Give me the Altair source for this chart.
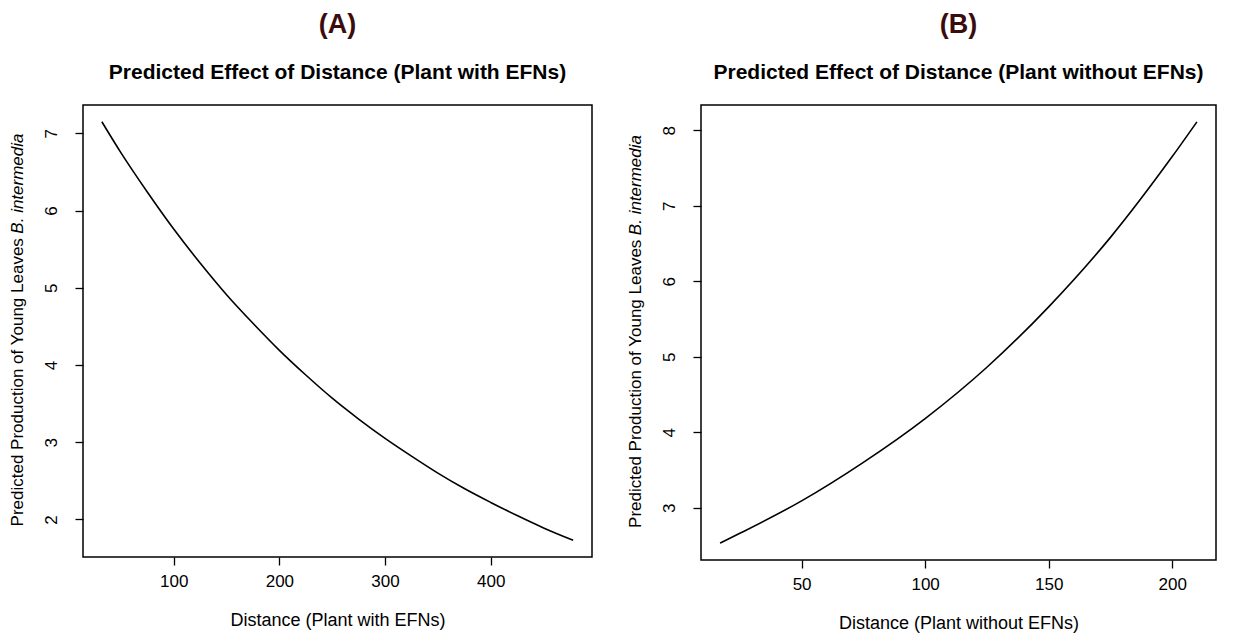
import altair as alt
import pandas as pd

# ---- data ----
a_distance = [32, 50, 75, 100, 125, 150, 175, 200, 225, 250, 275, 300, 325, 350, 375, 400, 425, 450, 478]
a_leaves = [7.15, 6.75, 6.24, 5.76, 5.32, 4.91, 4.54, 4.19, 3.87, 3.57, 3.30, 3.05, 2.82, 2.60, 2.40, 2.22, 2.05, 1.89, 1.73]

b_distance = [17, 25, 50, 75, 100, 125, 150, 175, 200, 210]
b_leaves = [2.53, 2.66, 3.09, 3.60, 4.18, 4.86, 5.66, 6.58, 7.65, 8.11]

a_xticks = [100, 200, 300, 400]
a_yticks = [2, 3, 4, 5, 6, 7]
b_xticks = [50, 100, 150, 200]
b_yticks = [3, 4, 5, 6, 7, 8]

FONT = "Liberation Sans"
YLAB_NORMAL = "Predicted Production of Young Leaves"
YLAB_ITALIC = "B. intermedia"
YFS = 17


def rng(v):
    lo, hi = min(v), max(v)
    pad = 0.04 * (hi - lo)
    return [lo - pad, hi + pad]


def panel(dist, leaves, xticks, yticks, letter, subtitle, xtitle, w, h):
    df = pd.DataFrame({"d": dist, "y": leaves})
    line = alt.Chart(df).mark_line(color="black", strokeWidth=1.6, interpolate="monotone").encode(
        x=alt.X("d:Q",
                scale=alt.Scale(domain=rng(dist), nice=False, zero=False),
                axis=alt.Axis(values=xticks, title=xtitle, domain=False, grid=False,
                              tickColor="black", tickSize=8, tickWidth=1.3,
                              labelFont=FONT, labelFontSize=17, labelColor="black", labelPadding=8,
                              titleFont=FONT, titleFontSize=18, titleFontWeight="normal",
                              titleColor="black", titlePadding=22)),
        y=alt.Y("y:Q",
                scale=alt.Scale(domain=rng(leaves), nice=False, zero=False),
                axis=alt.Axis(values=yticks, title=None, domain=False, grid=False,
                              tickColor="black", tickSize=8, tickWidth=1.3,
                              labelFont=FONT, labelFontSize=17, labelColor="black",
                              labelAngle=270, labelAlign="center", labelBaseline="bottom",
                              labelPadding=15)),
    )
    one = alt.Data(values=[{"a": 0}])
    junction = h / 2 - 5.726 * YFS
    ylab1 = alt.Chart(one).mark_text(angle=270, align="right", baseline="middle",
                                     font=FONT, fontSize=YFS, color="black").encode(
        x=alt.value(-65), y=alt.value(junction + 4.5), text=alt.value(YLAB_NORMAL))
    ylab2 = alt.Chart(one).mark_text(angle=270, align="left", baseline="middle",
                                     font=FONT, fontSize=YFS, fontStyle="italic", color="black").encode(
        x=alt.value(-65), y=alt.value(junction), text=alt.value(YLAB_ITALIC))
    return alt.layer(line, ylab1, ylab2).properties(
        width=w, height=h,
        title=alt.TitleParams(text=letter, subtitle=subtitle, anchor="middle",
                              font=FONT, fontSize=27, fontWeight="bold", color="#3b0c0c",
                              subtitleFont=FONT, subtitleFontSize=21, subtitleFontWeight="bold",
                              subtitleColor="black", subtitlePadding=23, offset=21),
    )


pa = panel(a_distance, a_leaves, a_xticks, a_yticks, "(A)",
           "Predicted Effect of Distance (Plant with EFNs)", "Distance (Plant with EFNs)", 509, 452)
pb = panel(b_distance, b_leaves, b_xticks, b_yticks, "(B)",
           "Predicted Effect of Distance (Plant without EFNs)", "Distance (Plant without EFNs)", 515, 455)

chart = alt.hconcat(pa, pb, spacing=33).properties(
    padding={"left": 0, "top": 2, "right": 0, "bottom": 0},
    background="white",
).configure_view(stroke="black", strokeWidth=1.5)

chart.save("out.html", embed_options={"renderer": "svg", "actions": False})
